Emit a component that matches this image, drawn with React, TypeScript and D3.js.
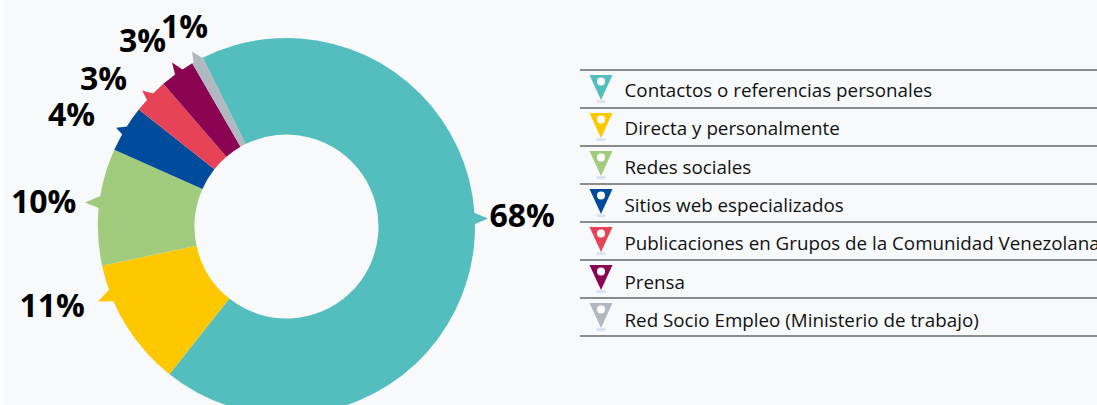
import React from "react";
import * as d3 from "d3";

const categories = [
  "Contactos o referencias personales",
  "Directa y personalmente",
  "Redes sociales",
  "Sitios web especializados",
  "Publicaciones en Grupos de la Comunidad Venezolana",
  "Prensa",
  "Red Socio Empleo (Ministerio de trabajo)",
];
const shares = [68, 11, 10, 4, 3, 3, 1];
const colors = ["#54BEBF", "#FDC800", "#A1CC7D", "#004B9B", "#E64357", "#8A0451", "#B1B8BF"];

// layout: pointer polar angles (deg) and tip radii, label anchors
const pointerTip = [87.7, 248.3, 276.8, 300.1, 313.3, 325.1, 331.6];
const pointerBaseA = [85.7, 250.5, 279.5, 302.2, 315.1, 326.6, 333.7];
const pointerBaseB = [89.4, 246.5, 275.5, 299.2, 312.1, 323.6, 330.4];
const pointerRadius = [201.7, 202.9, 203, 197, 198.4, 200, 199];
const labelX = [489.5, 19.5, 11, 48, 80, 119, 161];
const labelY = [227, 317, 213, 126, 90, 52, 38];

const W = 1097, H = 405;
const cx = 286.5, cy = 226.5, R = 188.5, r0 = 92;
const BG = "#F7F9FB";
const FONT = "'Open Sans', 'Noto Sans', sans-serif";
const rad = (d: number) => (d * Math.PI) / 180;

const legendY = d3.scaleLinear().domain([0, 1]).range([70, 108]);
const legendTextY = d3.scaleLinear().domain([0, 1]).range([97, 135.33]);

export default function App() {
  const pie = d3.pie<number>().sort(null).startAngle(rad(-26.4)).endAngle(rad(333.6));
  const arcs = pie(shares);
  const arc = d3.arc<d3.PieArcDatum<number>>().innerRadius(r0).outerRadius(R);
  const ptr = (i: number) => {
    const pts = [
      d3.pointRadial(rad(pointerBaseA[i]), R - 1),
      d3.pointRadial(rad(pointerTip[i]), pointerRadius[i]),
      d3.pointRadial(rad(pointerBaseB[i]), R - 1),
    ];
    return d3.line()(pts as [number, number][]) + "Z";
  };
  return (
    <svg width={W} height={H} style={{ position: "absolute", left: 0, top: 0, display: "block" }}>
      <rect x={3} y={0} width={W - 3} height={H} fill={BG} />
      <g transform={`translate(${cx},${cy})`}>
        {arcs.map((a, i) => (
          <g key={i}>
            <path d={ptr(i)} fill={colors[i]} />
            <path d={arc(a) || ""} fill={colors[i]} />
          </g>
        ))}
      </g>
      {shares.map((s, i) => (
        <text key={i} x={labelX[i]} y={labelY[i]} fontFamily={FONT} fontWeight={700} fontSize={32} fill="#000">
          {s}%
        </text>
      ))}
      {d3.range(categories.length + 1).map((i) => (
        <line key={i} x1={580} x2={W} y1={legendY(i)} y2={legendY(i)} stroke="#666" strokeWidth={1.5} />
      ))}
      {categories.map((c, i) => {
        const y = legendY(i);
        return (
          <g key={c}>
            <ellipse cx={601} cy={y + 31.5} rx={5} ry={1.8} fill="#DDE3EE" />
            <path d={`M589.5,${y + 5}L612.5,${y + 5}L601,${y + 30}Z`} fill={colors[i]} />
            <circle cx={601} cy={y + 11.5} r={4} fill="#fff" />
            <text x={624.5} y={legendTextY(i)} fontFamily={FONT} fontSize={18.8} fill="#111">
              {c}
            </text>
          </g>
        );
      })}
    </svg>
  );
}
